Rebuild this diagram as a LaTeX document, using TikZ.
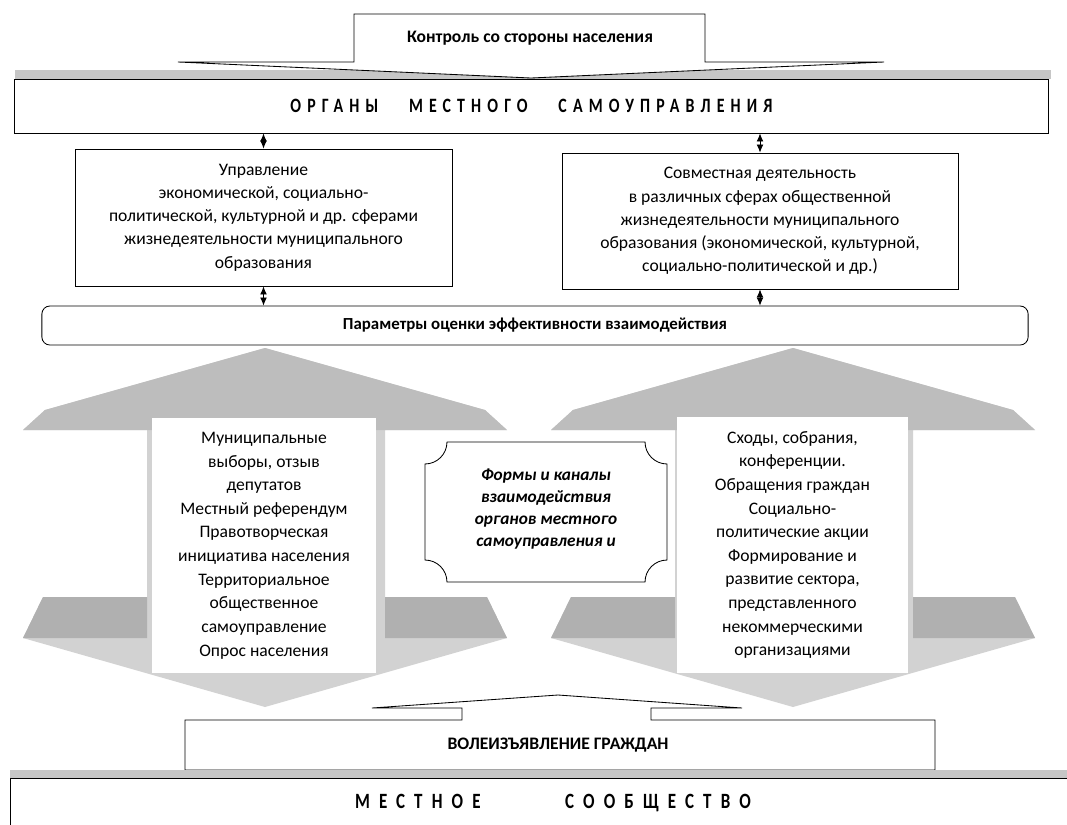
\documentclass[tikz,border=0pt]{standalone}
\usepackage{fontspec}
\setmainfont{Carlito}
\newfontfamily\spacedfont[LetterSpace=30,FakeStretch=0.78]{Carlito}
\newfontfamily\widefont[LetterSpace=42,FakeStretch=0.78]{Carlito}
\usetikzlibrary{arrows.meta}

\begin{document}
\begin{tikzpicture}[>={Latex[length=2mm,width=1.7mm]},x=0.025cm,y=-0.025cm,
    line width=0.6pt,
    box/.style={draw,fill=white,inner sep=0pt,align=center,
      font=\fontsize{12.5}{16.5}\selectfont},
    housetext/.style={fill=white,inner sep=0pt,align=center,
      font=\fontsize{12.5}{16.8}\selectfont},
    band/.style={fill=gray!45},
    roof/.style={fill=gray!52},
    base/.style={fill=gray!62},
    body/.style={fill=gray!35}]
  \useasboundingbox (0,0) rectangle (1067,824);

  % Top callout and bodies
  \fill[band] (15,70) rectangle (1051,79);
  \draw[fill=white] (178,62) -- (354,62) -- (354,14) -- (705,14) -- (705,62)
    -- (884,62) -- (531,78) -- cycle;
  \node[font=\fontsize{12.5}{14}\selectfont\bfseries] (control) at (530,38)
    {Контроль со стороны населения};
  \node[box,minimum width=25.825cm,minimum height=1.35cm] (organy) at (531.5,106)
    {\fontsize{14.5}{16}\spacedfont\bfseries ОРГАНЫ\hspace{22pt}МЕСТНОГО\hspace{22pt}САМОУПРАВЛЕНИЯ};

  \node[box,minimum width=9.425cm,minimum height=3.425cm] (upr) at (263.5,217.5)
    {Управление\\экономической, социально-\\политической, культурной и др. сферами\\
     жизнедеятельности муниципального\\образования};
  \node[box,minimum width=9.9cm,minimum height=3.4cm] (sovm) at (760,221)
    {Совместная деятельность\\в различных сферах общественной\\
     жизнедеятельности муниципального\\образования (экономической, культурной,\\
     социально-политической и др.)};
  \node[box,rounded corners=0.2cm,minimum width=24.65cm,minimum height=0.975cm,
    font=\fontsize{12}{14}\selectfont\bfseries] (param) at (535,325.5)
    {Параметры оценки эффективности взаимодействия};

  \draw[<->] (organy.south -| upr.north) -- (upr.north);
  \draw[<->] (organy.south -| sovm.north) -- (sovm.north);
  \draw[<->] (upr.south) -- (upr.south |- param.north);
  \draw[<->] (sovm.south) -- (sovm.south |- param.north);

  % Left double arrow
  \fill[body] (265,348) -- (485,410) -- (507,430) -- (385,430) -- (385,597)
    -- (487,597) -- (507,638) -- (265,707) -- (23,638) -- (43,597) -- (147,597)
    -- (147,430) -- (23,430) -- (45,410) -- cycle;
  \fill[roof] (265,348) -- (485,410) -- (507,430) -- (23,430) -- (45,410) -- cycle;
  \fill[base] (43,597) -- (147,597) -- (147,638) -- (23,638) -- cycle;
  \fill[base] (385,597) -- (487,597) -- (507,638) -- (385,638) -- cycle;

  % Right double arrow
  \fill[body] (793,348) -- (1013,410) -- (1035,430) -- (913,430) -- (913,597)
    -- (1015,597) -- (1035,638) -- (793,707) -- (551,638) -- (571,597) -- (675,597)
    -- (675,430) -- (551,430) -- (573,410) -- cycle;
  \fill[roof] (793,348) -- (1013,410) -- (1035,430) -- (551,430) -- (573,410) -- cycle;
  \fill[base] (571,597) -- (675,597) -- (675,638) -- (551,638) -- cycle;
  \fill[base] (913,597) -- (1015,597) -- (1035,638) -- (913,638) -- cycle;

  \node[housetext,minimum width=5.6cm,minimum height=6.375cm] (munic) at (264,545.5)
    {Муниципальные\\выборы, отзыв\\депутатов\\Местный референдум\\Правотворческая\\
     инициатива населения\\Территориальное\\общественное\\самоуправление\\Опрос населения};
  \node[housetext,minimum width=5.775cm,minimum height=6.4cm] (shody) at (792.5,545)
    {Сходы, собрания,\\конференции.\\Обращения граждан\\Социально-\\политические акции\\
     Формирование и\\развитие сектора,\\представленного\\некоммерческими\\организациями};

  % Plaque in the middle
  \node[align=center,minimum width=6.05cm,minimum height=3.5cm,
    font=\fontsize{12.3}{15.6}\selectfont\bfseries\itshape] (forms) at (546,509)
    {Формы и каналы\\взаимодействия\\органов местного\\самоуправления и};
  \begin{scope}[shift={(forms.center)},yshift=-0.075cm,x=1cm,y=1cm]
    \draw (-2.475,1.75) -- (2.475,1.75) arc[start angle=180,end angle=270,radius=0.55]
      -- (3.025,-1.2) arc[start angle=90,end angle=180,radius=0.55]
      -- (-2.475,-1.75) arc[start angle=0,end angle=90,radius=0.55]
      -- (-3.025,1.2) arc[start angle=-90,end angle=0,radius=0.55] -- cycle;
  \end{scope}

  % Bottom callout and community
  \draw[fill=white] (185,770) -- (185,720) -- (462,720) -- (462,708) -- (372,708)
    -- (558,695) -- (742,708) -- (651,708) -- (651,720) -- (935,720) -- (935,770) -- cycle;
  \node[font=\fontsize{12.5}{14}\selectfont\bfseries] (volya) at (558,745)
    {ВОЛЕИЗЪЯВЛЕНИЕ ГРАЖДАН};
  \fill[band] (10,770) rectangle (1067,778);
  \draw[fill=white] (10,778) rectangle (1090,850);
  \node[font=\fontsize{15.5}{18}\selectfont] (soob) at (553,803)
    {\widefont\bfseries МЕСТНОЕ\hspace{60pt}СООБЩЕСТВО};
\end{tikzpicture}
\end{document}
